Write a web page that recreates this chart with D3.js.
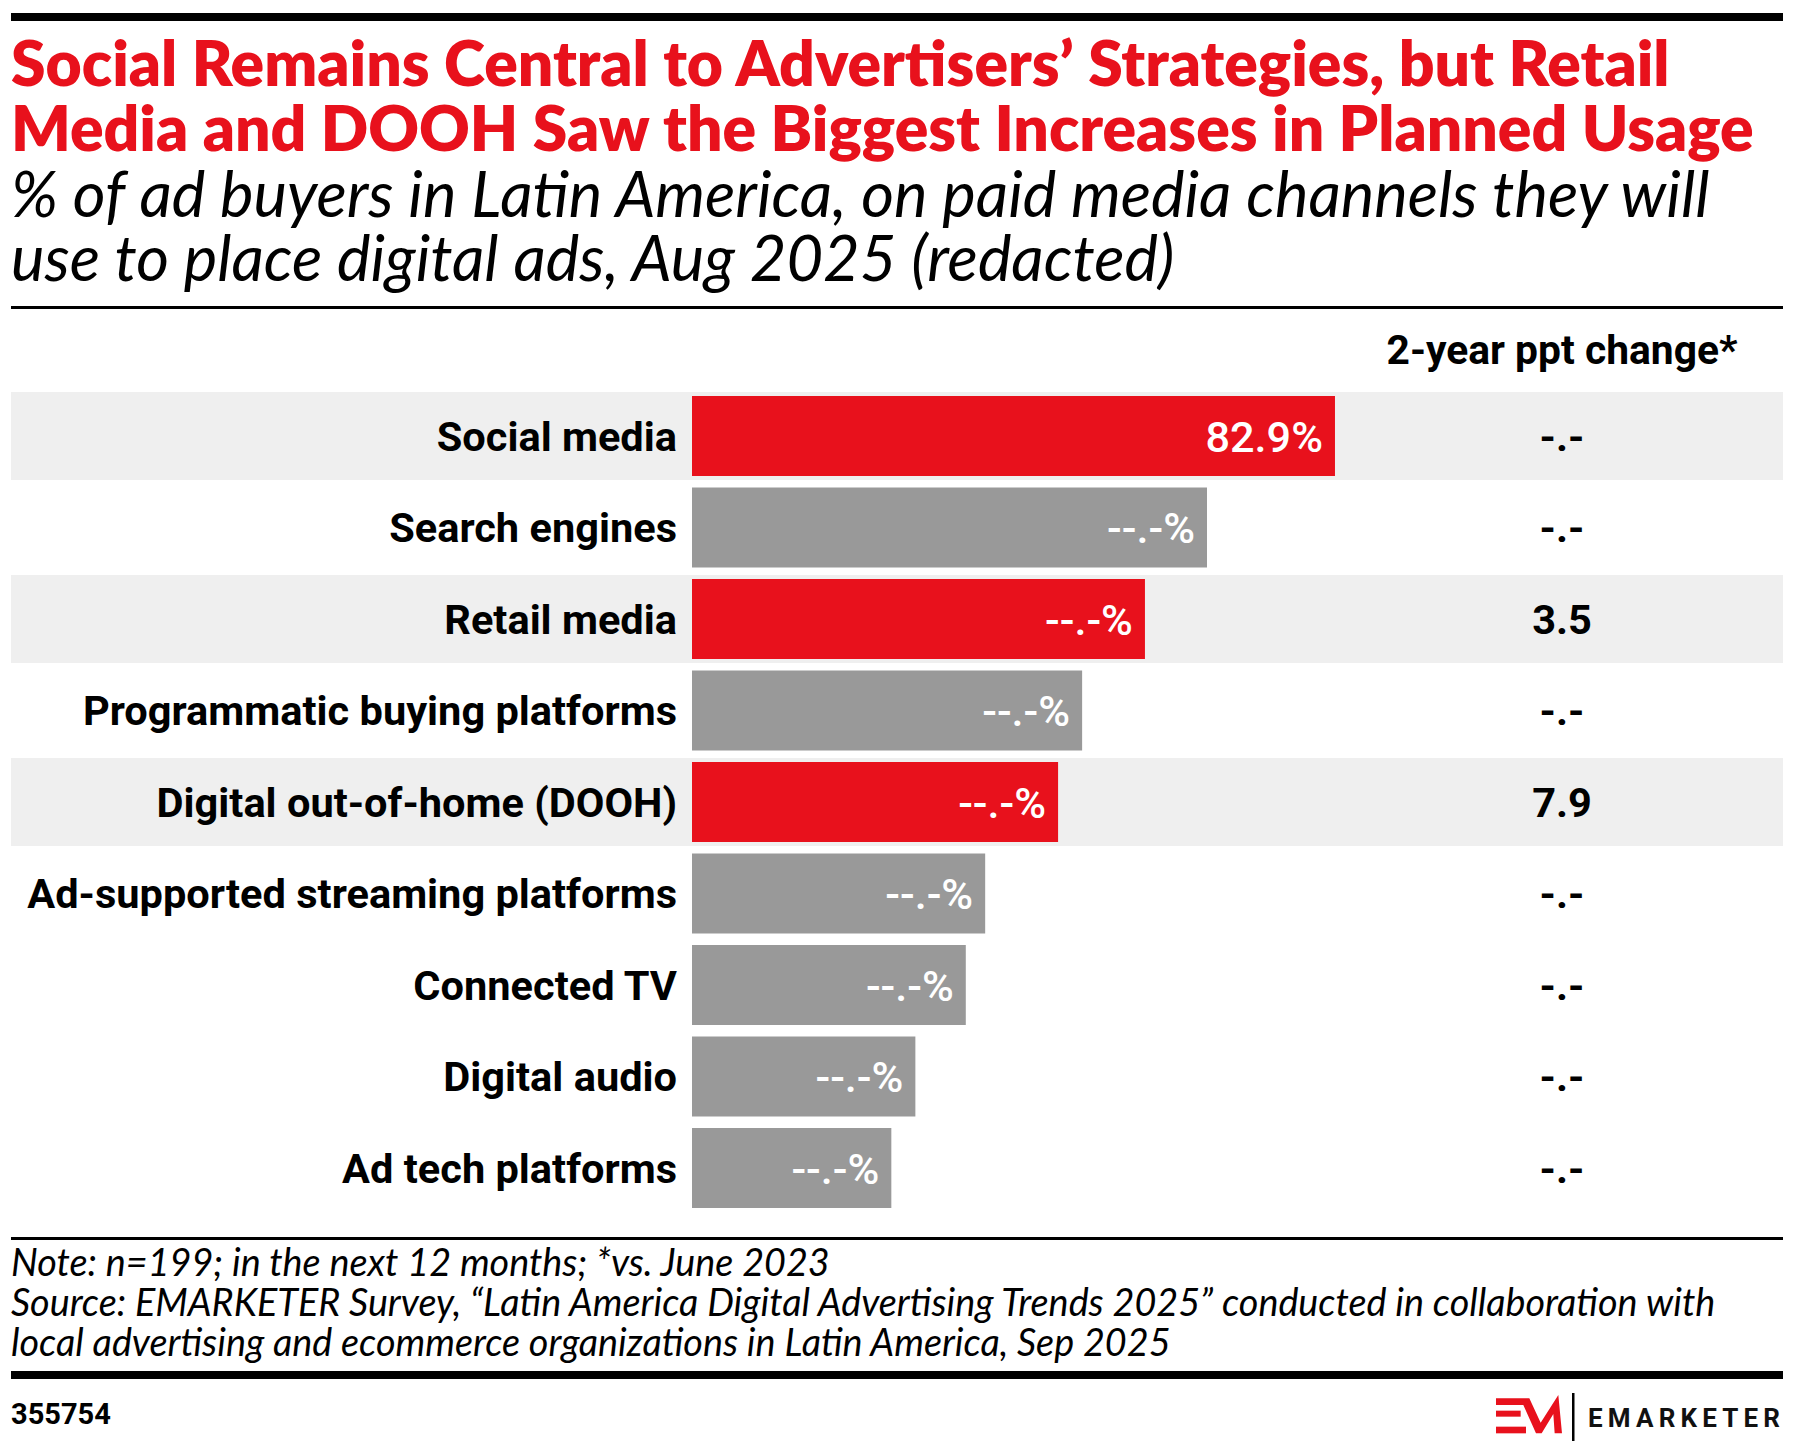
<!DOCTYPE html>
<html>
<head>
<meta charset="utf-8">
<script src="https://cdn.jsdelivr.net/npm/d3@7/dist/d3.min.js"></script>
<style>
  body { margin: 0; background: #fff; }
  svg { display: block; }
</style>
</head>
<body>
<div id="chart"></div>
<script>
// chart data
const categories = [
    "Social media",
    "Search engines",
    "Retail media",
    "Programmatic buying platforms",
    "Digital out-of-home (DOOH)",
    "Ad-supported streaming platforms",
    "Connected TV",
    "Digital audio",
    "Ad tech platforms"
];
// bar lengths (only the first value is printed)
const values = [82.9, 66.4, 58.4, 50.3, 47.2, 37.8, 35.3, 28.8, 25.7];
const valueLabels = ["82.9%", "--.-%", "--.-%", "--.-%", "--.-%", "--.-%", "--.-%", "--.-%", "--.-%"];
const changeLabels = ["-.-", "-.-", "3.5", "-.-", "7.9", "-.-", "-.-", "-.-", "-.-"];
const highlighted = ["Social media", "Retail media", "Digital out-of-home (DOOH)"];

const titleLines = [
    "Social Remains Central to Advertisers\u2019 Strategies, but Retail",
    "Media and DOOH Saw the Biggest Increases in Planned Usage"
];
const subtitleLines = [
    "% of ad buyers in Latin America, on paid media channels they will",
    "use to place digital ads, Aug 2025 (redacted)"
];
const columnHeader = "2-year ppt change*";
const noteLines = [
    "Note: n=199; in the next 12 months; *vs. June 2023",
    "Source: EMARKETER Survey, \u201cLatin America Digital Advertising Trends 2025\u201d conducted in collaboration with",
    "local advertising and ecommerce organizations in Latin America, Sep 2025"
];
const chartId = "355754";

const width = 1794, height = 1452;
const left = 11, right = 1783;
const RED = "#e8111c", GRAY = "#999999", BAND = "#efefef";
const FONT = "Lato, 'Open Sans', sans-serif";
const LABEL_FONT = "Roboto, 'Liberation Sans', sans-serif";

const svg = d3.select('#chart').append('svg')
    .attr('width', width)
    .attr('height', height)
    .style('font-family', FONT);

// scale font-size of a group of texts so the widest one spans `target` px
function fitWidth(sel, target) {
    const w = d3.max(sel.nodes(), n => n.getComputedTextLength());
    const fs = parseFloat(sel.attr('font-size'));
    sel.attr('font-size', fs * target / w);
    return fs * target / w;
}

// top bar
svg.append('rect').attr('x', left).attr('y', 13).attr('width', right - left).attr('height', 8).attr('fill', '#000');

// title + subtitle as one text block, one tspan per line
const heading = svg.append('text').attr('x', left);

const title = heading.selectAll('tspan.title')
    .data(titleLines).join('tspan')
    .attr('class', 'title')
    .attr('x', left)
    .attr('y', (d, i) => 86 + i * 65)
    .attr('font-size', 56)
    .attr('font-weight', 800)
    .attr('fill', RED)
    .text(d => d);
fitWidth(title, 1743);

const subtitle = heading.selectAll('tspan.sub')
    .data(subtitleLines).join('tspan')
    .attr('class', 'sub')
    .attr('x', left)
    .attr('y', (d, i) => 217 + i * 64)
    .attr('font-size', 50)
    .attr('font-style', 'italic')
    .attr('fill', '#000')
    .text(d => d);
fitWidth(subtitle, 1699);

svg.append('line').attr('x1', left).attr('x2', right).attr('y1', 307.5).attr('y2', 307.5)
    .attr('stroke', '#000').attr('stroke-width', 3);

// scales
const x = d3.scaleLinear().domain([0, 100]).range([692, 692 + 775.6]);
const y = d3.scaleBand().domain(categories).range([392, 392 + 9 * 91.5]).padding(0);
const rowH = y.step() - 3.5;
const barH = 80;
const changeX = 1562;

// column header
const header = svg.append('text')
    .attr('x', changeX)
    .attr('y', 364)
    .attr('text-anchor', 'middle')
    .attr('font-family', LABEL_FONT)
    .attr('font-size', 34)
    .attr('font-weight', 700)
    .text(columnHeader);
fitWidth(header, 351);

const rows = svg.append('g').selectAll('g')
    .data(categories).join('g')
    .attr('transform', d => `translate(0,${y(d)})`);

rows.filter(d => highlighted.includes(d)).append('rect')
    .attr('x', left)
    .attr('width', right - left)
    .attr('height', rowH)
    .attr('fill', BAND);

rows.append('rect')
    .attr('x', x(0))
    .attr('y', (rowH - barH) / 2)
    .attr('width', (d, i) => x(values[i]) - x(0))
    .attr('height', barH)
    .attr('fill', d => highlighted.includes(d) ? RED : GRAY);

const catLabels = rows.append('text')
    .attr('x', 677)
    .attr('y', rowH / 2)
    .attr('dy', '0.36em')
    .attr('text-anchor', 'end')
    .attr('font-family', LABEL_FONT)
    .attr('font-size', 34)
    .attr('font-weight', 700)
    .attr('fill', '#000')
    .text(d => d);
const labelSize = fitWidth(catLabels, 650);

rows.append('text')
    .attr('x', (d, i) => x(values[i]) - 12)
    .attr('y', rowH / 2)
    .attr('dy', '0.36em')
    .attr('text-anchor', 'end')
    .attr('font-family', LABEL_FONT)
    .attr('font-size', labelSize * 1.04)
    .attr('font-weight', 500)
    .attr('fill', '#fff')
    .text((d, i) => valueLabels[i]);

rows.append('text')
    .attr('x', changeX)
    .attr('y', rowH / 2)
    .attr('dy', '0.36em')
    .attr('text-anchor', 'middle')
    .attr('font-family', LABEL_FONT)
    .attr('font-size', labelSize)
    .attr('font-weight', 700)
    .attr('fill', '#000')
    .text((d, i) => changeLabels[i]);

// footer
svg.append('line').attr('x1', left).attr('x2', right).attr('y1', 1238.5).attr('y2', 1238.5)
    .attr('stroke', '#000').attr('stroke-width', 3);

const notes = svg.append('text').selectAll('tspan')
    .data(noteLines).join('tspan')
    .attr('x', left)
    .attr('y', (d, i) => 1276 + i * 40)
    .attr('font-size', 30)
    .attr('font-style', 'italic')
    .attr('fill', '#000')
    .text(d => d);
fitWidth(notes, 1705);

svg.append('rect').attr('x', left).attr('y', 1371).attr('width', right - left).attr('height', 8).attr('fill', '#000');

const idText = svg.append('text')
    .attr('x', left)
    .attr('y', 1424)
    .attr('font-family', LABEL_FONT)
    .attr('font-size', 24)
    .attr('font-weight', 700)
    .text(chartId);
fitWidth(idText, 100);

// logo
const logo = svg.append('g').attr('transform', 'translate(1490,1390) scale(0.3333)');
logo.append('polygon')
    .attr('points', '18,25 118,25 152,98 205,15 216,130 194,130 190,72 155,130 138,130 100,45 18,45')
    .attr('fill', RED);
logo.append('rect').attr('x', 18).attr('y', 62).attr('width', 74).attr('height', 18).attr('fill', RED);
logo.append('rect').attr('x', 18).attr('y', 110).attr('width', 90).attr('height', 20).attr('fill', RED);
svg.append('rect').attr('x', 1572).attr('y', 1393).attr('width', 2.5).attr('height', 48).attr('fill', '#000');
svg.append('text')
    .attr('x', 1588)
    .attr('y', 1427)
    .attr('font-family', LABEL_FONT)
    .attr('font-size', 26)
    .attr('font-weight', 700)
    .attr('textLength', 192)
    .attr('lengthAdjust', 'spacing')
    .attr('fill', '#111')
    .text('EMARKETER');
</script>
</body>
</html>
